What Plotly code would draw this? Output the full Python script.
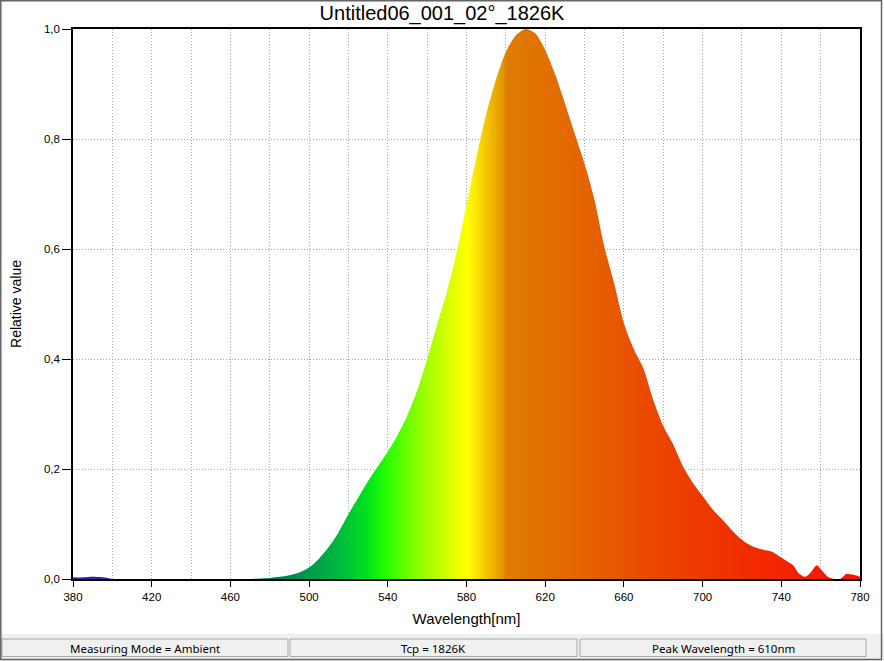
import plotly.graph_objects as go

# ---------------- data ----------------
wavelength_nm = [380, 385, 390, 395, 400, 405, 410, 420, 430, 440, 450, 460, 465, 470, 475,
                 480, 485, 490, 495, 500, 505, 510, 515, 520, 525, 530, 535, 540, 545,
                 550, 555, 560, 565, 570, 575, 580, 585, 590, 595, 600, 605, 610, 615,
                 620, 625, 630, 635, 640, 645, 650, 655, 660, 665, 670, 675, 680, 685,
                 690, 695, 700, 705, 710, 715, 720, 725, 730, 735, 740, 743, 746, 749,
                 752, 755, 758, 761, 764, 767, 770, 773, 776, 780]
relative_value = [0.003, 0.003, 0.004, 0.003, 0.0, 0.0, 0.0, 0.0, 0.0, 0.0, 0.0, 0.0, 0.0, 0.0, 0.001,
                  0.002, 0.004, 0.007, 0.012, 0.021, 0.037, 0.058, 0.085, 0.118, 0.148, 0.178, 0.205, 0.232, 0.262,
                  0.298, 0.343, 0.400, 0.462, 0.522, 0.594, 0.680, 0.766, 0.845, 0.908, 0.958, 0.988, 1.000, 0.992,
                  0.962, 0.918, 0.865, 0.810, 0.755, 0.690, 0.605, 0.538, 0.465, 0.418, 0.382, 0.325, 0.278, 0.245,
                  0.205, 0.175, 0.151, 0.127, 0.108, 0.088, 0.071, 0.060, 0.054, 0.050, 0.039, 0.032, 0.025, 0.010,
                  0.004, 0.012, 0.025, 0.014, 0.003, 0.0, 0.0, 0.009, 0.008, 0.004]

# spectrum colour stops (wavelength -> colour)
color_nm = [380, 400, 440, 470, 480, 490, 500, 510, 520, 530, 540, 550, 560, 570, 580,
            584, 590, 596, 599, 600, 610, 630, 650, 670, 700, 740, 780]
color_hex = ["#4b1a9e", "#3020b0", "#0030c0", "#006090", "#007a60", "#008552", "#009a4c",
             "#00ad42", "#00c636", "#00e41a", "#2cff00", "#6cff00", "#a4ff00", "#d4ff00",
             "#ffff00", "#fdec00", "#f4c600", "#e8a400", "#e09400", "#df7e00", "#e07600",
             "#e46a00", "#e65c00", "#ea4a00", "#ee3800", "#f42400", "#f61200"]

x_ticks = [380, 420, 460, 500, 540, 580, 620, 660, 700, 740, 780]
y_ticks = [0.0, 0.2, 0.4, 0.6, 0.8, 1.0]

title_text = "Untitled06_001_02°_1826K"
status_texts = ["Measuring Mode = Ambient", "Tcp = 1826K", "Peak Wavelength = 610nm"]

# ---------------- figure ----------------
W, H = 884, 661
L, R, T, B = 73, 24, 29, 82
PW, PH = W - L - R, H - T - B


def px(xp):
    return (xp - L) / PW


def py(yp):
    return (H - B - yp) / PH


x0, x1 = min(wavelength_nm), max(wavelength_nm)
colorscale = [[(c - x0) / (x1 - x0), h] for c, h in zip(color_nm, color_hex)]

fig = go.Figure()
fig.add_trace(go.Scatter(
    x=wavelength_nm, y=relative_value,
    mode="lines", line=dict(width=0, shape="spline", smoothing=0.8, color="rgba(0,0,0,0)"),
    fill="tozeroy",
    fillgradient=dict(type="horizontal", colorscale=colorscale, start=x0, stop=x1),
    hoverinfo="skip", showlegend=False,
))

axis_font = dict(family="Liberation Sans, Arial, sans-serif", size=11.5, color="#000")
GRIDC = "#a6a6a6"
GDASH = "1px,2px"
grid = dict(showgrid=True, gridcolor=GRIDC, griddash=GDASH, gridwidth=1)

fig.update_xaxes(
    range=[x0, x1], tickvals=x_ticks, ticks="outside", ticklen=6, tickcolor="#000",
    tickfont=axis_font, showline=True, linecolor="#000", linewidth=1.5, mirror=True,
    zeroline=False, minor=dict(dtick=20, tick0=380, showgrid=True, gridcolor=GRIDC,
                               griddash=GDASH, ticks=""),
    title=dict(text="Wavelength[nm]", font=dict(family="Liberation Sans, Arial, sans-serif",
                                                 size=15, color="#000"), standoff=12),
    **grid,
)
fig.update_yaxes(
    range=[0, 1], tickvals=y_ticks, tickformat=".1f", ticks="outside", ticklen=9, tickcolor="#000",
    tickfont=axis_font, showline=True, linecolor="#000", linewidth=1.5, mirror=True,
    zeroline=False,
    title=dict(text="Relative value", font=dict(family="Liberation Sans, Arial, sans-serif",
                                                 size=14, color="#000"), standoff=19),
    **grid,
)

shapes = []
# status bar background
shapes.append(dict(type="rect", xref="paper", yref="paper", x0=px(0), x1=px(W), y0=py(634), y1=py(H),
                   fillcolor="#f0f0f0", line=dict(width=0), layer="below"))
panels = [(2, 288), (290, 577), (580, 866)]
annotations = []
for (a, b), txt in zip(panels, status_texts):
    shapes.append(dict(type="rect", xref="paper", yref="paper", x0=px(a), x1=px(b), y0=py(639), y1=py(656.5),
                       fillcolor="#f0f0f0", line=dict(color="#a8a8a8", width=1)))
    annotations.append(dict(text=txt, xref="paper", yref="paper", x=px((a + b) / 2), y=py(648),
                            xanchor="center", yanchor="middle", showarrow=False,
                            font=dict(family="Segoe UI, Noto Sans, sans-serif", size=11.5, color="#000")))
# window frame
shapes.append(dict(type="rect", xref="paper", yref="paper", x0=px(0.8), x1=px(881.5), y0=py(0.8), y1=py(659.5),
                   line=dict(color="#646464", width=1.5), fillcolor="rgba(0,0,0,0)"))

fig.update_layout(
    width=W, height=H, margin=dict(l=L, r=R, t=T, b=B, pad=0),
    paper_bgcolor="#fff", plot_bgcolor="#fff", separators=",.",
    title=dict(text=title_text, x=0.5, xref="container", xanchor="center", y=1 - 13 / H, yanchor="middle",
               font=dict(family="Liberation Sans, Arial, sans-serif", size=20, color="#000")),
    shapes=shapes, annotations=annotations, showlegend=False,
)

fig.write_html("out.html", config={"displayModeBar": False},
               post_script="document.body.style.margin='0';document.body.style.overflow='hidden';")
